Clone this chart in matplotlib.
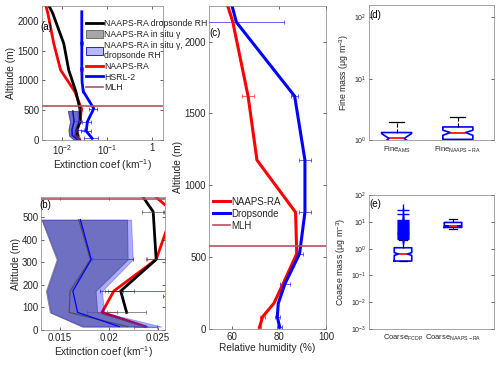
import numpy as np
import matplotlib
matplotlib.use('Agg')
import matplotlib.pyplot as plt
from matplotlib.patches import Patch
from matplotlib.lines import Line2D
from matplotlib.ticker import NullLocator

plt.rcParams['font.family'] = ['Liberation Sans', 'DejaVu Sans']
plt.rcParams['mathtext.default'] = 'regular'

# ---------------- data ----------------
MLH = 580

# NAAPS-RA extinction (km-1) on model levels (m)
naaps_alt = [15, 78, 173, 313, 525, 810, 1175, 1620, 2135, 2300]
naaps_ext = [0.0237, 0.0193, 0.0205, 0.0248, 0.0265, 0.0190, 0.0091, 0.0064, 0.0047, 0.0041]
naaps_err = [0.0012, 0.0015, 0.0009, 0.0009, 0.0010, 0, 0, 0, 0, 0]

# NAAPS-RA with dropsonde RH
drop_alt = [78, 173, 313, 525, 810, 1175, 1620, 2135, 2300]
drop_ext = [0.0218, 0.0212, 0.0248, 0.0245, 0.0200, 0.0138, 0.0107, 0.0060, 0.0046]
drop_err = [0.0020, 0.0013, 0.0010, 0.0011, 0, 0, 0, 0, 0]

# HSRL-2 extinction
hsrl_alt = [30, 150, 310, 530, 820, 976, 1200, 1628, 2150]
hsrl_ext = [0.046, 0.034, 0.036, 0.050, 0.029, 0.0274, 0.027, 0.027, 0.027]
hsrl_err = [0.015, 0.0085, 0.008, 0.010, 0.002, 0, 0.002, 0.002, 0]

# in situ gamma bands
insitu_alt = [15, 78, 173, 313, 490]
gray_lo = [0.01727, 0.0140, 0.01359, 0.01469, 0.01314]
gray_mid = [0.0219, 0.01596, 0.01606, 0.01813, 0.01693]
gray_hi = [0.02397, 0.01881, 0.01864, 0.0219, 0.02184]
blue_lo = [0.0174, 0.0141, 0.0137, 0.0148, 0.0132]
blue_mid = [0.02105, 0.01682, 0.01634, 0.0182, 0.0171]
blue_hi = [0.02534, 0.0195, 0.0193, 0.02242, 0.02225]
blue_bar_alt = [313, 173]
blue_bar_lo = [0.0183, 0.0191]
blue_bar_hi = [0.0224, 0.0300]

# relative humidity (%)
rh_alt = [12, 85, 178, 316, 524, 812, 1175, 1620, 2135, 2300]
rh_naaps = [71.6, 72.9, 77.7, 81.7, 87.5, 87.0, 70.5, 66.7, 60.2, 57.0]
rh_naaps_err = [0.8, 1.0, 0, 0, 0, 0, 0, 2.4, 0, 0]
rh_drop = [80.2, 79.2, 79.6, 82.5, 88.7, 91.0, 91.0, 86.6, 61.7, 59.0]
rh_drop_err = [1.0, 1.0, 0, 2.0, 1.5, 2.4, 2.4, 1.5, 20.5, 0]

# box statistics (ug m-3)
fine_labels = [r'Fine$_{AMS}$', r'Fine$_{NAAPS-RA}$']
fine_med = [1.065, 1.33]
fine_q1 = [0.85, 1.03]
fine_q3 = [1.33, 1.64]
fine_whislo = [0.7, 0.9]
fine_whishi = [1.94, 2.39]
fine_cilo = [0.88, 1.2]
fine_cihi = [1.28, 1.45]

coarse_labels = [r'Coarse$_{FCDP}$', r'Coarse$_{NAAPS-RA}$']
coarse_med = [0.63, 6.9]
coarse_q1 = [0.344, 6.2]
coarse_q3 = [1.08, 9.5]
coarse_whislo = [0.344, 5.2]
coarse_whishi = [2.1, 12.3]
coarse_cilo = [0.56, 6.6]
coarse_cihi = [0.71, 7.3]
fcdp_fliers = [2.3, 2.5, 2.7, 2.9, 3.1, 3.4, 3.7, 4.0, 4.3, 4.7, 5.1, 5.5,
               6.0, 6.5, 7.1, 7.7, 8.4, 9.1, 9.9, 10.8, 11.7, 19.5, 28.0]

RED = '#ff0000'
BLUE = '#0000ff'
MLH_C = '#b8505e'
AX_C = '#262626'
TICK_FS = 7
LABEL_FS = 7.3


def style(ax, fs=TICK_FS):
    for s in ax.spines.values():
        s.set_linewidth(0.5)
        s.set_color('#808080')
    ax.tick_params(direction='in', length=2.5, width=0.5, labelsize=fs,
                   top=True, right=True, pad=2, colors=AX_C)


def errbars(ax, x, y, err, color):
    x, y, err = np.array(x), np.array(y), np.array(err)
    m = err > 0
    ax.errorbar(x[m], y[m], xerr=err[m], fmt='none', ecolor=color,
                elinewidth=0.6, capsize=1.5, capthick=0.6, alpha=0.7, zorder=1)


def draw_extinction(ax):
    ax.plot(naaps_ext, naaps_alt, color=RED, lw=2, zorder=1)
    ax.plot(drop_ext, drop_alt, color='black', lw=2, zorder=1)
    ax.plot(hsrl_ext, hsrl_alt, color=BLUE, lw=2, zorder=1)
    errbars(ax, naaps_ext, naaps_alt, naaps_err, RED)
    errbars(ax, drop_ext, drop_alt, drop_err, '#444444')
    errbars(ax, hsrl_ext, hsrl_alt, hsrl_err, BLUE)
    bx = (np.array(blue_bar_lo) + np.array(blue_bar_hi)) / 2
    be = (np.array(blue_bar_hi) - np.array(blue_bar_lo)) / 2
    errbars(ax, bx, blue_bar_alt, be, BLUE)
    ax.fill_betweenx(insitu_alt, gray_lo, gray_hi, color='#808080', alpha=0.7,
                     lw=0.6, edgecolor='#606060', zorder=2)
    ax.fill_betweenx(insitu_alt, blue_lo, blue_hi, facecolor=BLUE, alpha=0.32,
                     lw=0.6, edgecolor=BLUE, zorder=2)
    ax.plot(gray_mid, insitu_alt, color='#505050', lw=0.9, zorder=3)
    ax.plot(blue_mid, insitu_alt, color=BLUE, lw=0.9, zorder=3)
    ax.axhline(MLH, color=MLH_C, lw=1.2, zorder=4)


fig = plt.figure(figsize=(5, 3.65), dpi=100)

# ---- (a) ----
ax_a = fig.add_axes([0.084, 0.616, 0.242, 0.368])
draw_extinction(ax_a)
ax_a.set_xscale('log')
ax_a.set_xlim(0.0035, 1.75)
ax_a.set_ylim(0, 2250)
ax_a.set_xticks([0.01, 0.1, 1])
ax_a.set_xticklabels(['$10^{-2}$', '$10^{-1}$', '1'])
ax_a.xaxis.set_minor_locator(NullLocator())
ax_a.set_yticks([0, 500, 1000, 1500, 2000])
style(ax_a)
ax_a.set_xlabel('Extinction coef (km$^{-1}$)', fontsize=LABEL_FS, labelpad=0, color=AX_C)
ax_a.set_ylabel('Altitude (m)', fontsize=LABEL_FS, labelpad=1, color=AX_C)
ax_a.text(-0.01, 0.84, '(a)', transform=ax_a.transAxes, fontsize=7, va='center')
handles = [
    Line2D([], [], color='black', lw=2),
    Patch(facecolor='#a6a6a6', edgecolor='#606060', lw=0.6),
    Patch(facecolor='#b8b8ff', edgecolor=BLUE, lw=0.6),
    Line2D([], [], color=RED, lw=2),
    Line2D([], [], color=BLUE, lw=2),
    Line2D([], [], color=MLH_C, lw=1.2),
]
labels = ['NAAPS-RA dropsonde RH', 'NAAPS-RA in situ γ',
          'NAAPS-RA in situ γ,\ndropsonde RH', 'NAAPS-RA', 'HSRL-2', 'MLH']
leg = ax_a.legend(handles, labels, loc='upper left', bbox_to_anchor=(0.36, 0.9),
                  frameon=False, fontsize=6.3, handlelength=2.0, handleheight=0.9,
                  labelspacing=0.2, handletextpad=0.15, borderpad=0, borderaxespad=0)
for t in leg.get_texts():
    t.set_color(AX_C)

# ---- (b) ----
ax_b = fig.add_axes([0.082, 0.096, 0.248, 0.364])
draw_extinction(ax_b)
ax_b.set_xlim(0.0131, 0.0257)
ax_b.set_ylim(0, 590)
ax_b.set_xticks([0.015, 0.02, 0.025])
ax_b.set_xticklabels(['0.015', '0.02', '0.025'])
ax_b.set_yticks([0, 100, 200, 300, 400, 500])
style(ax_b)
ax_b.set_xlabel('Extinction coef (km$^{-1}$)', fontsize=LABEL_FS, labelpad=1, color=AX_C)
ax_b.set_ylabel('Altitude (m)', fontsize=LABEL_FS, labelpad=1, color=AX_C)
ax_b.text(-0.01, 0.94, '(b)', transform=ax_b.transAxes, fontsize=7, va='center')

# ---- (c) ----
ax_c = fig.add_axes([0.418, 0.0986, 0.234, 0.886])
ax_c.set_facecolor('white')
ax_c.plot(rh_naaps, rh_alt, color=RED, lw=2.2, label='NAAPS-RA')
ax_c.plot(rh_drop, rh_alt, color=BLUE, lw=2.2, label='Dropsonde')
errbars(ax_c, rh_naaps, rh_alt, rh_naaps_err, RED)
errbars(ax_c, rh_drop, rh_alt, rh_drop_err, BLUE)
ax_c.axhline(MLH, color=MLH_C, lw=1.2, label='MLH')
ax_c.set_xlim(50, 100)
ax_c.set_ylim(0, 2250)
ax_c.set_xticks([60, 80, 100])
ax_c.set_yticks([0, 500, 1000, 1500, 2000])
style(ax_c)
ax_c.set_xlabel('Relative humidity (%)', fontsize=LABEL_FS, labelpad=1, color=AX_C)
ax_c.set_ylabel('Altitude (m)', fontsize=LABEL_FS, labelpad=1, color=AX_C)
ax_c.text(0.0, 0.914, '(c)', transform=ax_c.transAxes, fontsize=7, va='center')
leg = ax_c.legend(loc='center left', bbox_to_anchor=(0.03, 0.357), frameon=False,
                  fontsize=7, handlelength=1.8, labelspacing=0.2, handletextpad=0.15,
                  borderpad=0, borderaxespad=0)
for t in leg.get_texts():
    t.set_color(AX_C)


def box_panel(ax, labels, med, q1, q3, wlo, whi, clo, chi, fliers, width):
    stats = []
    for i in range(len(labels)):
        stats.append(dict(med=med[i], q1=q1[i], q3=q3[i], whislo=wlo[i],
                          whishi=whi[i], cilo=clo[i], cihi=chi[i],
                          fliers=fliers[i], label=labels[i]))
    ax.bxp(stats, positions=[1, 2], widths=width, shownotches=True,
           boxprops=dict(color=BLUE, lw=1.2),
           medianprops=dict(color=RED, lw=1.2),
           whiskerprops=dict(color='black', ls='--', lw=0.8),
           capprops=dict(color='black', lw=0.9),
           flierprops=dict(marker='+', markeredgecolor=BLUE, markersize=8,
                           markeredgewidth=1.0, ls='none'),
           capwidths=width * 0.5)
    ax.set_yscale('log')
    ax.yaxis.set_minor_locator(NullLocator())
    style(ax, fs=5)
    ax.tick_params(axis='x', top=False, length=0, pad=3, labelsize=5.4)


# ---- (d) ----
ax_d = fig.add_axes([0.738, 0.616, 0.25, 0.369])
box_panel(ax_d, fine_labels, fine_med, fine_q1, fine_q3, fine_whislo, fine_whishi,
          fine_cilo, fine_cihi, [[], []], 0.49)
ax_d.set_xlim(0.55, 2.59)
ax_d.set_ylim(1, 155)
ax_d.set_yticks([1, 10, 100])
ax_d.set_ylabel(r'Fine mass ($\mu$g m$^{-3}$)', fontsize=6.3, labelpad=2, color=AX_C)
ax_d.text(0.0, 0.93, '(d)', transform=ax_d.transAxes, fontsize=7, va='center')

# ---- (e) ----
ax_e = fig.add_axes([0.738, 0.0986, 0.25, 0.367])
box_panel(ax_e, coarse_labels, coarse_med, coarse_q1, coarse_q3, coarse_whislo,
          coarse_whishi, coarse_cilo, coarse_cihi, [fcdp_fliers, []], 0.35)
ax_e.set_xlim(0.32, 2.82)
ax_e.set_ylim(1e-3, 1e2)
ax_e.set_yticks([1e-3, 1e-2, 1e-1, 1, 10, 100])
ax_e.set_ylabel(r'Coarse mass ($\mu$g m$^{-3}$)', fontsize=6.3, labelpad=2, color=AX_C)
ax_e.text(0.0, 0.93, '(e)', transform=ax_e.transAxes, fontsize=7, va='center')

fig.savefig('out.png', dpi=100)
